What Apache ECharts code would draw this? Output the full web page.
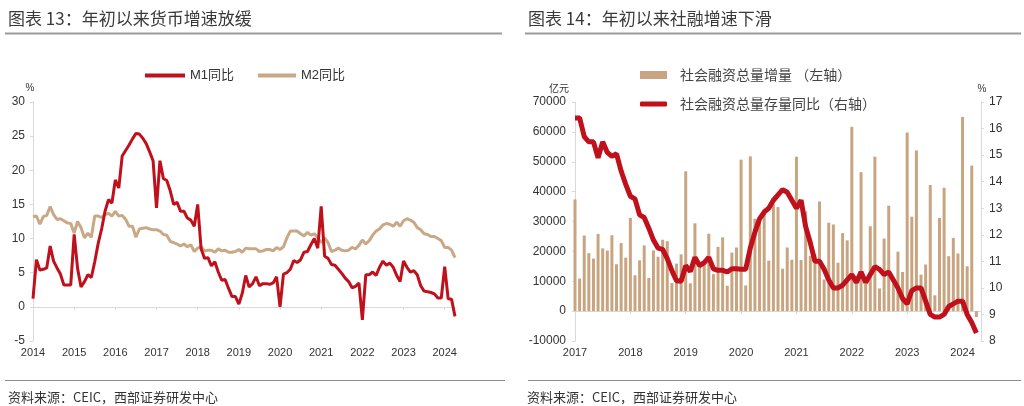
<!DOCTYPE html>
<html>
<head>
<meta charset="utf-8">
<script src="https://cdn.jsdelivr.net/npm/echarts@6/dist/echarts.min.js"></script>
<style>
html,body{margin:0;padding:0;background:#fff;}
#chart{width:1024px;height:406px;}
</style>
</head>
<body>
<div id="chart"></div>
<script>
// ---------- Left chart: M1 / M2 YoY (%), monthly Jan 2014 – Apr 2024 ----------
const yearsLeft = ['2014','2015','2016','2017','2018','2019','2020','2021','2022','2023','2024'];
const monthsLastYearLeft = 4;
const m1Yoy = [
  1.2, 6.9, 5.4, 5.5, 5.7, 8.9, 6.7, 5.7, 4.8, 3.2, 3.2, 3.2,
  10.6, 5.6, 2.9, 3.7, 4.7, 4.3, 6.6, 9.3, 11.4, 14.0, 15.7, 15.2,
  18.6, 17.4, 22.1, 22.9, 23.7, 24.6, 25.4, 25.3, 24.7, 23.9, 22.7, 21.4,
  14.5, 21.4, 18.8, 18.5, 17.0, 15.0, 15.3, 14.0, 14.0, 13.0, 12.7, 11.8,
  15.0, 8.5, 7.1, 7.2, 6.0, 6.6, 5.1, 3.9, 4.0, 2.7, 1.5, 1.5,
  0.4, 2.0, 4.6, 2.9, 3.4, 4.4, 3.1, 3.4, 3.4, 3.3, 3.5, 4.4,
  0.0, 4.8, 5.0, 5.5, 6.8, 6.5, 6.9, 8.0, 8.1, 9.1, 10.0, 8.6,
  14.7, 7.4, 7.1, 6.2, 6.1, 5.5, 4.9, 4.2, 3.7, 2.8, 3.0, 3.5,
  -1.9, 4.7, 4.7, 5.1, 4.6, 5.8, 6.7, 6.1, 6.4, 5.8, 4.6, 3.7,
  6.7, 5.8, 5.1, 5.3, 4.7, 3.1, 2.3, 2.2, 2.1, 1.9, 1.3, 1.3,
  5.9, 1.2, 1.1, -1.4
];
const m2Yoy = [
  13.2, 13.3, 12.1, 13.2, 13.4, 14.7, 13.5, 12.8, 12.9, 12.6, 12.3, 12.2,
  10.8, 12.5, 11.6, 10.1, 10.8, 10.2, 13.3, 13.3, 13.1, 13.5, 13.7, 13.3,
  14.0, 13.3, 13.4, 12.8, 11.8, 11.8, 10.2, 11.4, 11.5, 11.6, 11.4, 11.3,
  11.3, 11.1, 10.6, 10.5, 9.6, 9.4, 9.2, 8.9, 9.2, 8.8, 9.1, 8.1,
  8.6, 8.8, 8.2, 8.3, 8.3, 8.0, 8.5, 8.2, 8.3, 8.0, 8.0, 8.1,
  8.4, 8.0, 8.6, 8.5, 8.5, 8.5, 8.1, 8.2, 8.4, 8.4, 8.2, 8.7,
  8.4, 8.8, 10.1, 11.1, 11.1, 11.1, 10.7, 10.4, 10.9, 10.5, 10.7, 10.1,
  9.4, 10.1, 9.4, 8.1, 8.3, 8.6, 8.3, 8.2, 8.3, 8.7, 8.5, 9.0,
  9.8, 9.2, 9.7, 10.5, 11.1, 11.4, 12.0, 12.2, 12.1, 11.8, 12.4, 11.8,
  12.6, 12.9, 12.7, 12.4, 11.6, 11.3, 10.7, 10.6, 10.3, 10.3, 10.0, 9.7,
  8.7, 8.7, 8.3, 7.2
];

// ---------- Right chart: TSF flow (亿元, left axis) & stock YoY (%, right axis), Jan 2017 – Apr 2024 ----------
const yearsRight = ['2017','2018','2019','2020','2021','2022','2023','2024'];
const monthsLastYearRight = 4;
const tsfFlow = [
  37400, 10900, 25300, 19400, 17600, 25800, 21000, 20300, 25400, 15700, 22800, 17900,
  31200, 12000, 17000, 22000, 11100, 20300, 18200, 23900, 23400, 9400, 15900, 19000,
  46800, 9300, 29400, 15000, 16000, 25900, 12400, 21500, 24700, 8500, 19600, 21300,
  50700, 8600, 51800, 30900, 31900, 34300, 16900, 35800, 34800, 14200, 21300, 17200,
  51700, 17100, 33400, 18500, 19200, 36700, 10600, 29600, 29000, 16200, 26100, 23700,
  61700, 11900, 46500, 9100, 28400, 51700, 7600, 24300, 35300, 9100, 19900, 13100,
  59800, 31600, 53800, 12200, 15600, 42200, 5300, 31200, 41300, 18400, 24500, 19300,
  65000, 15000, 48700, -2000
];
const tsfStockYoy = [
  16.4, 16.4, 15.7, 15.5, 15.5, 14.9, 15.5, 15.1, 14.95, 15.05, 14.4, 13.9,
  13.45, 13.35, 12.75, 12.65, 12.25, 11.8, 11.5, 11.45, 11.1, 10.65, 10.27, 10.25,
  10.84, 10.62, 11.15, 10.84, 10.95, 11.15, 10.72, 10.66, 10.66, 10.6, 10.72, 10.72,
  10.7, 10.7, 11.5, 12.1, 12.6, 12.85, 13.0, 13.3, 13.5, 13.7, 13.6, 13.3,
  13.0, 13.3, 12.3, 11.7, 11.0, 11.0, 10.7, 10.3, 10.0, 10.0, 10.1, 10.3,
  10.5, 10.2, 10.6, 10.2, 10.5, 10.8, 10.7, 10.5, 10.6, 10.3, 10.0, 9.6,
  9.4, 9.9, 10.0, 10.0, 9.5, 9.0, 8.9, 8.9, 9.0, 9.3, 9.4, 9.5,
  9.5, 9.0, 8.7, 8.3
];

const titleLeft = '图表 13：年初以来货币增速放缓';
const titleRight = '图表 14：年初以来社融增速下滑';
const sourceText = '资料来源：CEIC，西部证券研发中心';
const nameM1 = 'M1同比', nameM2 = 'M2同比';
const nameFlow = '社会融资总量增量 （左轴）';
const nameStock = '社会融资总量存量同比（右轴）';

function monthCats(years, lastMonths, extra) {
  const out = [];
  years.forEach((y, i) => {
    const n = i === years.length - 1 ? lastMonths : 12;
    for (let m = 1; m <= n; m++) out.push(y + '-' + (m < 10 ? '0' + m : m));
  });
  for (let k = 0; k < extra; k++) out.push('');
  return out;
}
const catsLeft = monthCats(yearsLeft, monthsLastYearLeft, 0);
const catsRight = monthCats(yearsRight, monthsLastYearRight, 1);

const FONT = '"Liberation Sans", Arial, "Noto Sans CJK SC", sans-serif';
const CJK = '"Noto Sans CJK SC", sans-serif';
const AX = '#d9d9d9';
const yearIdx = cats => (i) => !!(cats[i] && cats[i].endsWith('-01'));
const plain = v => String(v);
const axLabel = (extra) => Object.assign({fontSize: 12, color: '#333', fontFamily: FONT, formatter: plain}, extra);

const chart = echarts.init(document.getElementById('chart'), null, {renderer: 'canvas'});
chart.setOption({
  animation: false,
  backgroundColor: '#fff',
  textStyle: {fontFamily: FONT},
  grid: [
    {left: 33, top: 102, width: 422, height: 239},
    {left: 575, top: 102, width: 406, height: 239}
  ],
  legend: [
    {left: 145, top: 69, padding: 0, icon: 'rect', itemWidth: 40, itemHeight: 4, selectedMode: false,
     data: [nameM1], textStyle: {fontSize: 13, color: '#333', fontFamily: FONT}},
    {left: 258, top: 69, padding: 0, icon: 'rect', itemWidth: 38, itemHeight: 4, selectedMode: false,
     data: [nameM2], textStyle: {fontSize: 13, color: '#333', fontFamily: FONT}},
    {left: 640, top: 68, padding: 0, icon: 'rect', itemWidth: 27, itemHeight: 8, selectedMode: false,
     data: [nameFlow], textStyle: {fontSize: 14, color: '#444', fontFamily: CJK, padding: [0,0,0,8]}},
    {left: 640, top: 97, padding: 0, icon: 'roundRect', itemWidth: 27, itemHeight: 5, selectedMode: false,
     data: [nameStock], textStyle: {fontSize: 14, color: '#444', fontFamily: CJK, padding: [0,0,0,8]}}
  ],
  xAxis: [
    {type: 'category', gridIndex: 0, data: catsLeft, boundaryGap: false, position: 'bottom',
     axisLine: {onZero: true, lineStyle: {color: AX, width: 1}},
     axisTick: {show: true, interval: yearIdx(catsLeft), length: 3, lineStyle: {color: AX}},
     axisLabel: {show: false}, splitLine: {show: false}},
    {type: 'category', gridIndex: 0, data: catsLeft, boundaryGap: false, position: 'bottom',
     axisLine: {show: false, onZero: false}, axisTick: {show: false},
     axisLabel: axLabel({interval: yearIdx(catsLeft), formatter: v => v.slice(0, 4), fontSize: 11, margin: 6}),
     splitLine: {show: false}},
    {type: 'category', gridIndex: 1, data: catsRight, boundaryGap: false, position: 'bottom',
     axisLine: {onZero: true, lineStyle: {color: AX, width: 1}},
     axisTick: {show: true, interval: yearIdx(catsRight), length: 3, lineStyle: {color: AX}},
     axisLabel: {show: false}, splitLine: {show: false}},
    {type: 'category', gridIndex: 1, data: catsRight, boundaryGap: false, position: 'bottom',
     axisLine: {show: false, onZero: false}, axisTick: {show: false},
     axisLabel: axLabel({interval: yearIdx(catsRight), formatter: v => v.slice(0, 4), fontSize: 11, margin: 6}),
     splitLine: {show: false}}
  ],
  yAxis: [
    {type: 'value', gridIndex: 0, min: -5, max: 30, interval: 5, position: 'left',
     axisLine: {show: true, lineStyle: {color: AX}}, axisTick: {show: true, length: 3, lineStyle: {color: AX}},
     axisLabel: axLabel({margin: 8}), splitLine: {show: false}},
    {type: 'value', gridIndex: 1, min: -10000, max: 70000, interval: 10000, position: 'left',
     axisLine: {show: true, lineStyle: {color: AX}}, axisTick: {show: true, length: 3, lineStyle: {color: AX}},
     axisLabel: axLabel({margin: 9}), splitLine: {show: false}},
    {type: 'value', gridIndex: 1, min: 8, max: 17, interval: 1, position: 'right',
     axisLine: {show: true, lineStyle: {color: AX}}, axisTick: {show: true, length: 3, lineStyle: {color: AX}},
     axisLabel: axLabel({margin: 8}), splitLine: {show: false}}
  ],
  series: [
    {name: nameM2, type: 'line', xAxisIndex: 0, yAxisIndex: 0, data: m2Yoy, symbol: 'none',
     lineStyle: {color: '#C9A886', width: 3}, itemStyle: {color: '#C9A886'}, z: 2},
    {name: nameM1, type: 'line', xAxisIndex: 0, yAxisIndex: 0, data: m1Yoy, symbol: 'none',
     lineStyle: {color: '#C0101C', width: 3}, itemStyle: {color: '#C0101C'}, z: 3},
    {name: nameFlow, type: 'bar', xAxisIndex: 2, yAxisIndex: 1, data: tsfFlow, barWidth: 3,
     itemStyle: {color: '#C8A580'}, z: 2},
    {name: nameStock, type: 'line', xAxisIndex: 2, yAxisIndex: 2, data: tsfStockYoy, symbol: 'none',
     lineStyle: {color: '#C0101C', width: 5}, itemStyle: {color: '#C0101C'}, z: 3}
  ],
  graphic: [
    {type: 'text', x: 8, y: 19, style: {text: titleLeft, fontSize: 17, fontFamily: CJK, fill: '#3a3a3a', verticalAlign: 'middle'}},
    {type: 'text', x: 528, y: 19, style: {text: titleRight, fontSize: 17, fontFamily: CJK, fill: '#3a3a3a', verticalAlign: 'middle'}},
    {type: 'line', shape: {x1: 5, y1: 33.5, x2: 502, y2: 33.5}, style: {stroke: '#9a9a9a', lineWidth: 2}},
    {type: 'line', shape: {x1: 525, y1: 33.5, x2: 1021, y2: 33.5}, style: {stroke: '#9a9a9a', lineWidth: 2}},
    {type: 'line', shape: {x1: 5, y1: 380.5, x2: 505, y2: 380.5}, style: {stroke: '#8a8a8a', lineWidth: 1}},
    {type: 'line', shape: {x1: 528, y1: 380.5, x2: 1021, y2: 380.5}, style: {stroke: '#8a8a8a', lineWidth: 1}},
    {type: 'text', x: 8, y: 397, style: {text: sourceText, fontSize: 13, fontFamily: CJK, fill: '#333', verticalAlign: 'middle'}},
    {type: 'text', x: 527, y: 397, style: {text: sourceText, fontSize: 13, fontFamily: CJK, fill: '#333', verticalAlign: 'middle'}},
    {type: 'text', x: 30, y: 88, style: {text: '%', fontSize: 10, fontFamily: FONT, fill: '#333', align: 'center', verticalAlign: 'middle'}},
    {type: 'text', x: 559, y: 88, style: {text: '亿元', fontSize: 10, fontFamily: CJK, fill: '#333', align: 'center', verticalAlign: 'middle'}},
    {type: 'text', x: 982, y: 89, style: {text: '%', fontSize: 10, fontFamily: FONT, fill: '#333', align: 'center', verticalAlign: 'middle'}}
  ]
});
</script>
</body>
</html>
